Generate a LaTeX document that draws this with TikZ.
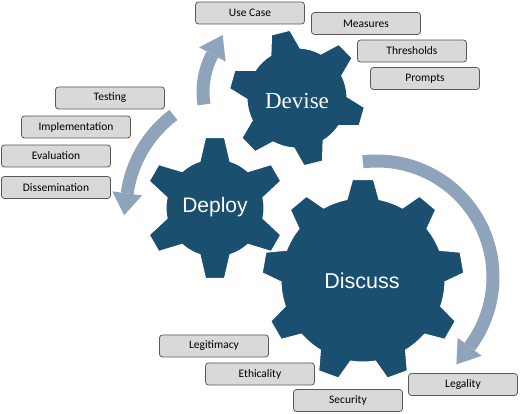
\documentclass[tikz,border=0pt]{standalone}
\usepackage{fontspec}
\setmainfont{Carlito}
\newfontfamily\gearsans{Liberation Sans}
\newfontfamily\gearserif{Liberation Serif}
\usetikzlibrary{calc}
\definecolor{gearblue}{HTML}{1A4F70}
\definecolor{arrowgray}{HTML}{8FA4BB}
\definecolor{boxfill}{HTML}{D9D9D9}
\definecolor{boxline}{HTML}{595959}

% center, R, Ro, N, offset, base width, tip width
\newcommand\mygear[7]{%
  \pgfmathsetmacro\ga{asin(#6/2/#2)}%
  \pgfmathsetmacro\gb{asin(#7/2/#3)}%
  \pgfmathsetmacro\gs{360/#4}%
  \fill[gearshape, shift={(#1)}] ({#5-\ga}:#2)
    \foreach \i in {1,...,#4} {
      -- ({#5+(\i-1)*\gs-\gb}:#3) -- ({#5+(\i-1)*\gs+\gb}:#3)
      -- ({#5+(\i-1)*\gs+\ga}:#2)
      arc[start angle={#5+(\i-1)*\gs+\ga}, end angle={#5+\i*\gs-\ga}, radius=#2pt]
    } -- cycle;
}
% center, r, start angle, end angle (base of head), tip direction
\newcommand\cyclearrow[5]{%
  \draw[arrowline] ($(#1)+({#3}:#2)$) arc[start angle=#3, end angle=#4, radius=#2pt];
  \fill[arrowgray] ($(#1)+({#4}:{#2+15})$) -- ($(#1)+({#4}:{#2-15})$)
    -- ($(#1)+({#4}:#2)+({#5}:22)$) -- cycle;
}

\begin{document}
\begin{tikzpicture}[x=1pt,y=1pt,
  gearshape/.style={fill=gearblue, draw=white, line width=1pt},
  arrowline/.style={draw=arrowgray, line width=13pt},
  lbl/.style={draw=boxline, fill=boxfill, rounded corners=3pt, line width=0.8pt,
    minimum width=109pt, minimum height=22pt, inner sep=0pt,
    font=\fontsize{11.5}{12}\selectfont, text=black},
  geartext/.style={text=white, inner sep=0pt}]
\useasboundingbox (0,0) rectangle (520,414);

\coordinate (cDevise) at (297,316);
\coordinate (cDeploy) at (215,206);
\coordinate (cDiscuss) at (363,134);
\coordinate (aUp) at (283,322);
\coordinate (aLeft) at (245,204);
\coordinate (aBig) at (377,137);

% arrows
\cyclearrow{aUp}{80}{189}{152}{62}
\cyclearrow{aLeft}{119}{127}{172}{262}
\cyclearrow{aBig}{116}{97}{-37}{-127}

% gears
\mygear{cDiscuss}{82}{101}{9}{90}{32}{21}
\mygear{cDeploy}{49}{71}{6}{90}{30}{19}
\mygear{cDevise}{50}{68}{6}{-136}{30}{19}

\node[geartext, font=\gearserif\fontsize{23}{25}\selectfont] (devise) at (297,313) {Devise};
\node[geartext, font=\gearsans\fontsize{21}{23}\selectfont] (deploy) at (215,207) {Deploy};
\node[geartext, font=\gearsans\fontsize{21.5}{23}\selectfont] (discuss) at (362,133) {Discuss};

% labels
\node[lbl] (usecase) at (250,401) {Use Case};
\node[lbl] (measures) at (366,390.5) {Measures};
\node[lbl] (thresholds) at (412,363) {Thresholds};
\node[lbl] (prompts) at (425,335.5) {Prompts};
\node[lbl] (testing) at (110,316) {Testing};
\node[lbl] (implementation) at (76,287) {Implementation};
\node[lbl] (evaluation) at (56,258) {Evaluation};
\node[lbl] (dissemination) at (56,226.5) {Dissemination};
\node[lbl] (legitimacy) at (214,68) {Legitimacy};
\node[lbl] (ethicality) at (260,40) {Ethicality};
\node[lbl] (security) at (348,13.5) {Security};
\node[lbl] (legality) at (463,29.5) {Legality};
\end{tikzpicture}
\end{document}
